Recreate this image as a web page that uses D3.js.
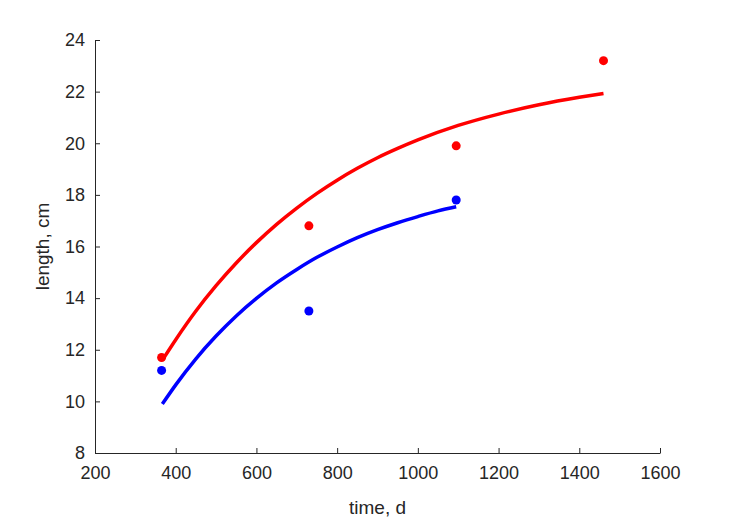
<!DOCTYPE html>
<html>
<head>
<meta charset="utf-8">
<script src="https://cdn.jsdelivr.net/npm/d3@7"></script>
<style>
  body { margin: 0; background: #fff; }
  svg { display: block; }
  text { font-family: "Liberation Sans", Arial, sans-serif; fill: #262626; }
</style>
</head>
<body>
<script>
// measured lengths (dots)
var obsDays = [365, 730, 1095, 1460];
var redObs = [11.7, 16.8, 19.9, 23.2];
var blueObs = [11.2, 13.5, 17.8];

// fitted curves
var redDays = [367, 400, 450, 500, 550, 600, 650, 700, 750, 800, 850, 900, 950, 1000, 1100, 1200, 1300, 1400, 1460];
var redFit = [11.6, 12.39, 13.5, 14.48, 15.36, 16.15, 16.86, 17.49, 18.06, 18.57, 19.03, 19.44, 19.8, 20.13, 20.69, 21.13, 21.49, 21.78, 21.93];
var blueDays = [367, 400, 450, 500, 550, 600, 650, 700, 750, 800, 850, 900, 950, 1000, 1050, 1095];
var blueFit = [9.9, 10.64, 11.65, 12.53, 13.31, 13.99, 14.59, 15.11, 15.58, 15.98, 16.34, 16.65, 16.92, 17.16, 17.38, 17.54];

var xTicks = [200, 400, 600, 800, 1000, 1200, 1400, 1600];
var yTicks = [8, 10, 12, 14, 16, 18, 20, 22, 24];

var W = 729, H = 521;
var mLeft = 95, mRight = 660, mTop = 40, mBottom = 453;

var svg = d3.select("body").append("svg")
  .attr("width", W)
  .attr("height", H);

var x = d3.scaleLinear().domain([200, 1600]).range([mLeft, mRight]);
var y = d3.scaleLinear().domain([8, 24]).range([mBottom, mTop]);

// axes, ticks inward like matlab
var xAxis = svg.append("g")
  .attr("transform", "translate(0," + mBottom + ")")
  .call(d3.axisBottom(x).tickValues(xTicks).tickFormat(d3.format("d"))
    .tickSizeInner(-5).tickSizeOuter(0).tickPadding(13));
var yAxis = svg.append("g")
  .attr("transform", "translate(" + mLeft + ",0)")
  .call(d3.axisLeft(y).tickValues(yTicks).tickFormat(d3.format("d"))
    .tickSizeInner(-5).tickSizeOuter(0).tickPadding(10));

[xAxis, yAxis].forEach(function(a){
  a.select(".domain").attr("stroke", "#262626").attr("stroke-width", 1);
  a.selectAll(".tick line").attr("stroke", "#262626");
  a.selectAll(".tick text")
    .style("font-family", "'Liberation Sans', Arial, sans-serif")
    .style("font-size", "18px")
    .attr("fill", "#262626");
});

svg.append("text")
  .attr("x", (mLeft + mRight) / 2)
  .attr("y", 514)
  .attr("text-anchor", "middle")
  .style("font-size", "19px")
  .text("time, d");

svg.append("text")
  .attr("transform", "translate(49," + ((mTop + mBottom) / 2) + ") rotate(-90)")
  .attr("text-anchor", "middle")
  .style("font-size", "19px")
  .text("length, cm");

var line = d3.line()
  .x(function(d){ return x(d[0]); })
  .y(function(d){ return y(d[1]); })
  .curve(d3.curveMonotoneX);

function drawSeries(days, fit, obs, color){
  svg.append("path")
    .datum(d3.zip(days, fit))
    .attr("d", line)
    .attr("fill", "none")
    .attr("stroke", color)
    .attr("stroke-width", 3.5);
  svg.selectAll(null)
    .data(d3.zip(obsDays.slice(0, obs.length), obs))
    .enter().append("circle")
    .attr("cx", function(d){ return x(d[0]); })
    .attr("cy", function(d){ return y(d[1]); })
    .attr("r", 4.5)
    .attr("fill", color);
}

drawSeries(blueDays, blueFit, blueObs, "#0000ff");
drawSeries(redDays, redFit, redObs, "#ff0000");
</script>
</body>
</html>
